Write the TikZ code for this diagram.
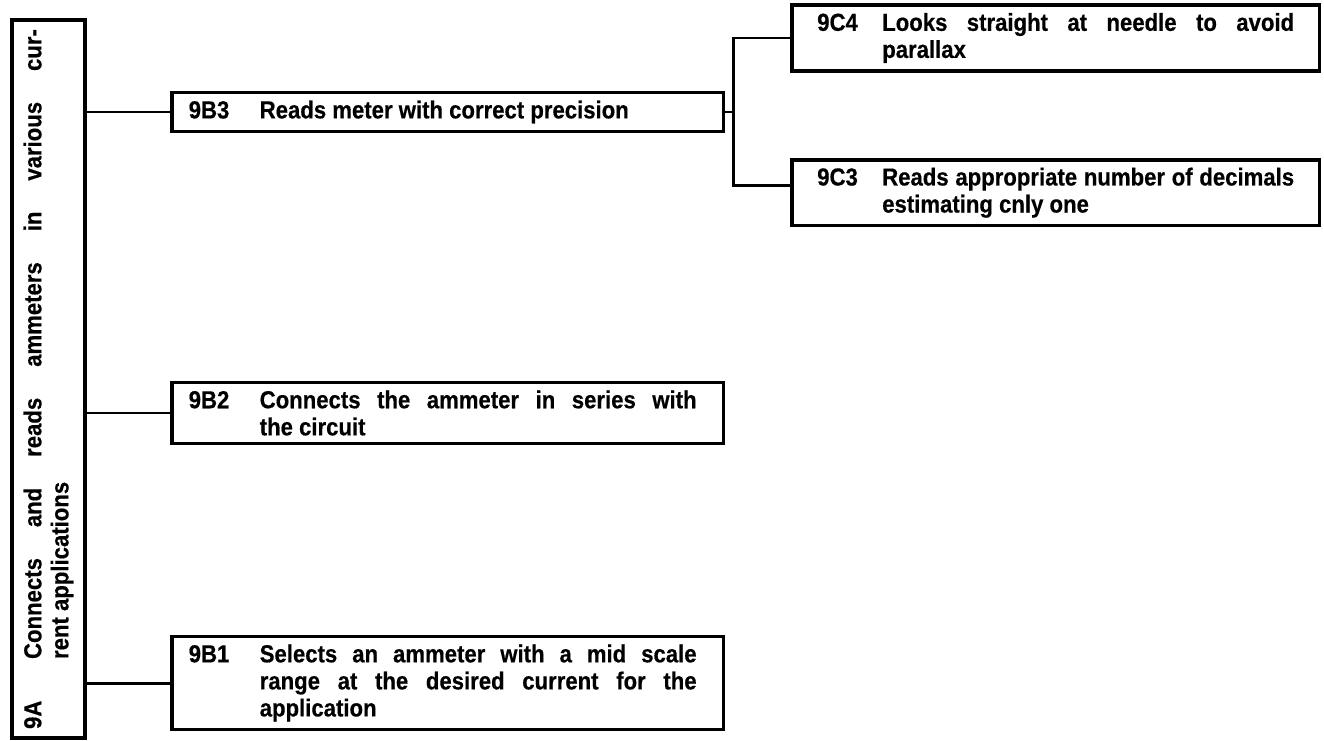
\documentclass[tikz,border=0pt]{standalone}
\usepackage{fontspec}
\setmainfont{Liberation Sans}[FakeStretch=0.9, BoldFeatures={FakeBold=0.5}]

\newcommand{\bitem}[2]{\makebox[1.42cm][l]{#1}\parbox[t]{8.74cm}{#2}\kern0.2cm}
\newcommand{\citem}[2]{\makebox[1.3cm][l]{#1}\parbox[t]{8.24cm}{#2}}

\begin{document}
\begin{tikzpicture}[
        x=0.02cm, y=-0.02cm,
        every node/.style={font=\bfseries\fontsize{14}{15.4}\selectfont},
        goal/.style={draw, line width=2.4pt, rotate=90, minimum width=14.36cm, minimum height=1.46cm},
        bbox/.style={draw, line width=2pt, anchor=west, inner xsep=0.34cm, inner ysep=4.5pt},
        cbox/.style={draw, line width=2pt, inner xsep=0.51cm, inner ysep=4.5pt},
        link/.style={line width=1.7pt}
    ]
        \useasboundingbox (0,0) rectangle (1324,740);

        % Main goal
        \node[goal] (a9) at (48.5, 379) {\makebox[1.4cm][l]{9A}\parbox[t]{12.6cm}{Connects and reads ammeters in various cur-\linebreak rent applications}};

        % Second level
        \node[bbox] (b3) at (170, 112) {\bitem{9B3}{Reads meter with correct precision}};
        \node[bbox] (b2) at (170, 413) {\bitem{9B2}{Connects the ammeter in series with\linebreak the circuit}};
        \node[bbox] (b1) at (170, 683) {\bitem{9B1}{Selects an ammeter with a mid scale\linebreak range at the desired current for the\linebreak application}};

        % Third level
        \node[cbox, anchor=west] (c4) at (790, 38) {\citem{9C4}{Looks straight at needle to avoid\linebreak parallax}};
        \node[cbox, anchor=north west] (c3) at (790, 158) {\citem{9C3}{Reads appropriate number of decimals\linebreak estimating cnly one}};

        % Connectors
        \draw[link] (b3.west -| a9.south) -- (b3.west);
        \draw[link] (b2.west -| a9.south) -- (b2.west);
        \draw[link] (b1.west -| a9.south) -- (b1.west);
        \coordinate (fork) at (733, 0);
        \draw[link] (b3.east) -- (b3.east -| fork);
        \draw[link] (c4.west) -| (b3.east -| fork);
        \draw[link] (c3.text -| c3.west) -| (b3.east -| fork);
    \end{tikzpicture}
\end{document}
